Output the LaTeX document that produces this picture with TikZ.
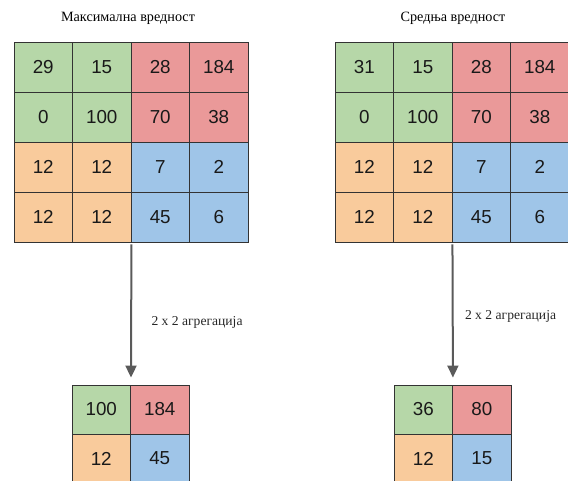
\documentclass[tikz,border=0pt]{standalone}
\usepackage{fontspec}
\setmainfont{Liberation Serif}
\newfontfamily\numfont{Liberation Sans}
\usetikzlibrary{arrows.meta,positioning,calc}
\definecolor{q0}{HTML}{B6D7A8}
\definecolor{q1}{HTML}{EA9999}
\definecolor{q2}{HTML}{F9CB9C}
\definecolor{q3}{HTML}{9FC5E8}
\definecolor{gridline}{HTML}{333333}
\definecolor{arrowgray}{HTML}{5A5A5A}
\tikzset{
  cell/.style={draw=gridline, line width=0.9pt, minimum width=58.5pt, minimum height=50pt,
    inner sep=0pt, font=\numfont\fontsize{18.8}{20}\selectfont, text=black!90},
  title/.style={font=\fontsize{14.2}{16}\selectfont},
  agg/.style={-{Triangle[length=12pt,width=11pt]}, draw=arrowgray, line width=2pt},
  agglabel/.style={font=\fontsize{13.6}{15}\selectfont, text=black!85},
}

\begin{document}
\begin{tikzpicture}[x=1pt, y=-1pt]
\useasboundingbox (0,0) rectangle (568,480);
\begin{scope}
\clip (0,0) rectangle (568,480);

% max pooling, input
\foreach \v [count=\k from 0] in {29,15,28,184,0,100,70,38,12,12,7,2,12,12,45,6} {
  \pgfmathtruncatemacro{\r}{div(\k,4)}
  \pgfmathtruncatemacro{\c}{mod(\k,4)}
  \pgfmathtruncatemacro{\q}{2*div(\r,2)+div(\c,2)}
  \node[cell, fill=q\q] (max-\r-\c) at ({14+58.5*(\c+0.5)}, {42+50*(\r+0.5)}) {\v};
}
% mean pooling, input
\foreach \v [count=\k from 0] in {31,15,28,184,0,100,70,38,12,12,7,2,12,12,45,6} {
  \pgfmathtruncatemacro{\r}{div(\k,4)}
  \pgfmathtruncatemacro{\c}{mod(\k,4)}
  \pgfmathtruncatemacro{\q}{2*div(\r,2)+div(\c,2)}
  \node[cell, fill=q\q] (mean-\r-\c) at ({335+58.5*(\c+0.5)}, {42+50*(\r+0.5)}) {\v};
}
% outputs
\foreach \v [count=\k from 0] in {100,184,12,45} {
  \pgfmathtruncatemacro{\r}{div(\k,2)}
  \pgfmathtruncatemacro{\c}{mod(\k,2)}
  \node[cell, minimum height=49pt, fill=q\k] (maxout-\r-\c) at ({72+58.5*(\c+0.5)}, {385+49*(\r+0.5)}) {\v};
}
\foreach \v [count=\k from 0] in {36,80,12,15} {
  \pgfmathtruncatemacro{\r}{div(\k,2)}
  \pgfmathtruncatemacro{\c}{mod(\k,2)}
  \node[cell, minimum height=49pt, fill=q\k] (meanout-\r-\c) at ({394+58.5*(\c+0.5)}, {385+49*(\r+0.5)}) {\v};
}
\end{scope}

\node[title] (maxtitle) at (128,18) {Максимална вредност};
\node[title] (meantitle) at (453,18) {Средња вредност};

\draw[agg, shorten <=2pt, shorten >=7pt] (max-3-1.south east) -- (maxout-0-0.north east)
  node[agglabel, pos=0.56, right=16pt] {2 x 2 агрегација};
\draw[agg, shorten <=2pt, shorten >=7pt] (mean-3-1.south east) -- (meanout-0-0.north east)
  node[agglabel, pos=0.52, right=8pt] {2 x 2 агрегација};

\end{tikzpicture}
\end{document}
